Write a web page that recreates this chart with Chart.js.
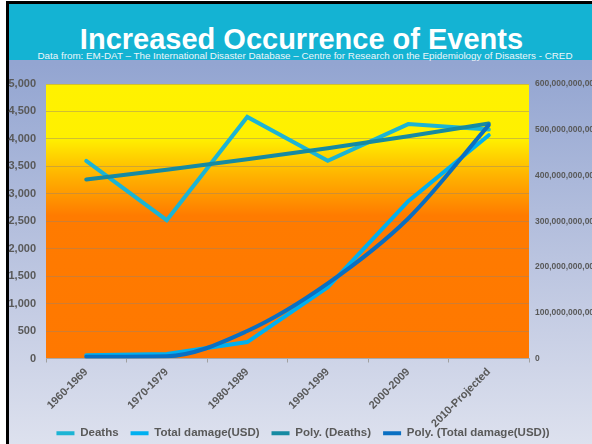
<!DOCTYPE html>
<html>
<head>
<meta charset="utf-8">
<title>Increased Occurrence of Events</title>
<script src="https://cdn.jsdelivr.net/npm/chart.js@4.4.1/dist/chart.umd.min.js"></script>
<style>
    html, body { margin: 0; padding: 0; background: #fff; }
    body { width: 592px; height: 444px; overflow: hidden; position: relative; font-family: "Liberation Sans", Arial, sans-serif; }
    .slide {
        position: absolute; left: 6px; top: 1px; width: 640px; height: 441px;
        border-left: 3px solid #000; border-top: 3px solid #000; border-bottom: 2px solid #000;
        background: linear-gradient(to bottom, #93a5d1 0px, #93a5d1 60px, #c3cbe3 300px, #dde1ee 441px);
    }
    .header { position: absolute; left: 0; top: 0; right: 0; height: 56px; background: #14b3d3; }
    .title {
        position: absolute; left: 0; width: 603px; top: 25px; text-align: center;
        color: #fff; font-weight: bold; font-size: 29px; line-height: 1; white-space: nowrap;
    }
    .subtitle {
        position: absolute; left: 0; width: 610px; top: 51px; text-align: center;
        color: #eef6fa; font-size: 10px; line-height: 1; white-space: nowrap;
    }
    #eventsChart { position: absolute; left: 0; top: 0; }
</style>
</head>
<body>
<div class="slide"><div class="header"></div></div>
<div class="title">Increased Occurrence of Events</div>
<div class="subtitle" id="subtitle">Data from: EM-DAT – The International Disaster Database – Centre for Research on the Epidemiology of Disasters - CRED</div>
<canvas id="eventsChart" width="620" height="449"></canvas>
<script>
// --- Data ---
const decades = ['1960-1969', '1970-1979', '1980-1989', '1990-1999', '2000-2009', '2010-Projected'];
const deaths = [3600, 2520, 4400, 3600, 4270, 4170];
const totalDamage = [7e9, 10e9, 36e9, 156e9, 344e9, 488e9];
const polyDeaths = [3260, 3440, 3630, 3830, 4050, 4280];
const polyDamage = [4e9, 5e9, 60e9, 164e9, 306e9, 510e9];
const deathTicks = [0, 5000, 500];        // min, max, step
const damageTicks = [0, 600e9, 100e9];    // min, max, step

document.addEventListener('DOMContentLoaded', () => {
    // subtitle: fit to the width seen in the reference
    const sub = document.getElementById('subtitle');
    const mctx = document.createElement('canvas').getContext('2d');
    mctx.font = '10px "Liberation Sans"';
    const w = mctx.measureText(sub.textContent).width;
    sub.style.fontSize = (10 * 536 / w).toFixed(2) + 'px';

    const ctx = document.getElementById('eventsChart')?.getContext('2d');
    if (!ctx || typeof Chart === 'undefined') {
        console.warn('Chart.js tidak dimuat.');
        return;
    }

    Chart.defaults.font.family = '"Liberation Sans", Arial, sans-serif';
    Chart.defaults.color = '#595959';

    // yellow -> orange fill behind the plot
    const plotBackground = {
        id: 'plotBackground',
        afterLayout(chart) {
            // let the long rotated x labels run into the legend, as in the slide
            chart.scales.x.bottom = chart.height;
        },
        beforeDraw(chart) {
            const { ctx: c, chartArea: a } = chart;
            const g = c.createLinearGradient(0, a.top, 0, a.bottom);
            g.addColorStop(0, '#fff200');
            g.addColorStop(0.2, '#fff000');
            g.addColorStop(0.33, '#ffb400');
            g.addColorStop(0.48, '#ff7b00');
            g.addColorStop(1, '#ff7800');
            c.save();
            c.fillStyle = g;
            c.fillRect(a.left, a.top, a.right - a.left, a.bottom - a.top);
            c.restore();
        }
    };

    const line = (label, data, color, axis, order, smooth) => ({
        label: label,
        data: data,
        borderColor: color,
        backgroundColor: color,
        borderWidth: 4,
        borderCapStyle: 'round',
        pointRadius: 0,
        tension: 0,
        cubicInterpolationMode: smooth ? 'monotone' : 'default',
        yAxisID: axis,
        order: order
    });

    new Chart(ctx, {
        type: 'line',
        data: {
            labels: decades,
            datasets: [
                line('Deaths', deaths, '#1cb4d4', 'y', 4, false),
                line('Total damage(USD)', totalDamage, '#00b0f0', 'y1', 3, false),
                line('Poly. (Deaths)', polyDeaths, '#168aa2', 'y', 2, false),
                line('Poly. (Total damage(USD))', polyDamage, '#0a6fc2', 'y1', 1, true)
            ]
        },
        options: {
            responsive: false,
            devicePixelRatio: 1,
            animation: false,
            layout: { padding: { top: 84, left: 0, right: 14, bottom: 0 } },
            scales: {
                x: {
                    offset: true,
                    grid: { offset: true, drawOnChartArea: false, tickLength: 4, color: '#a0a0a0' },
                    border: { display: true, color: '#a8a8a8' },
                    ticks: { minRotation: 45, maxRotation: 45, padding: 3, font: { size: 11, weight: 'bold' } },
                    afterFit(s) { s.height = 57; }
                },
                y: {
                    position: 'left',
                    min: deathTicks[0], max: deathTicks[1],
                    grid: { color: 'rgba(150,130,110,0.45)', drawTicks: false },
                    border: { display: false },
                    ticks: {
                        stepSize: deathTicks[2], padding: 10,
                        font: { size: 11, weight: 'bold' },
                        callback: v => v.toLocaleString('en-US')
                    },
                    afterFit(s) { s.width = 46; }
                },
                y1: {
                    position: 'right',
                    min: damageTicks[0], max: damageTicks[1],
                    grid: { drawOnChartArea: false, drawTicks: false },
                    border: { display: false },
                    ticks: {
                        stepSize: damageTicks[2], padding: 6,
                        font: { size: 8.5, weight: 'bold' },
                        callback: v => v.toLocaleString('en-US')
                    },
                    afterFit(s) { s.width = 77; }
                }
            },
            plugins: {
                legend: {
                    position: 'bottom',
                    labels: {
                        usePointStyle: true,
                        pointStyle: 'line',
                        pointStyleWidth: 18,
                        padding: 12,
                        font: { size: 11.5, weight: 'bold' },
                        color: '#595959',
                        sort: (a, b) => a.datasetIndex - b.datasetIndex
                    }
                },
                tooltip: { enabled: false }
            }
        },
        plugins: [plotBackground]
    });
});
</script>
</body>
</html>
